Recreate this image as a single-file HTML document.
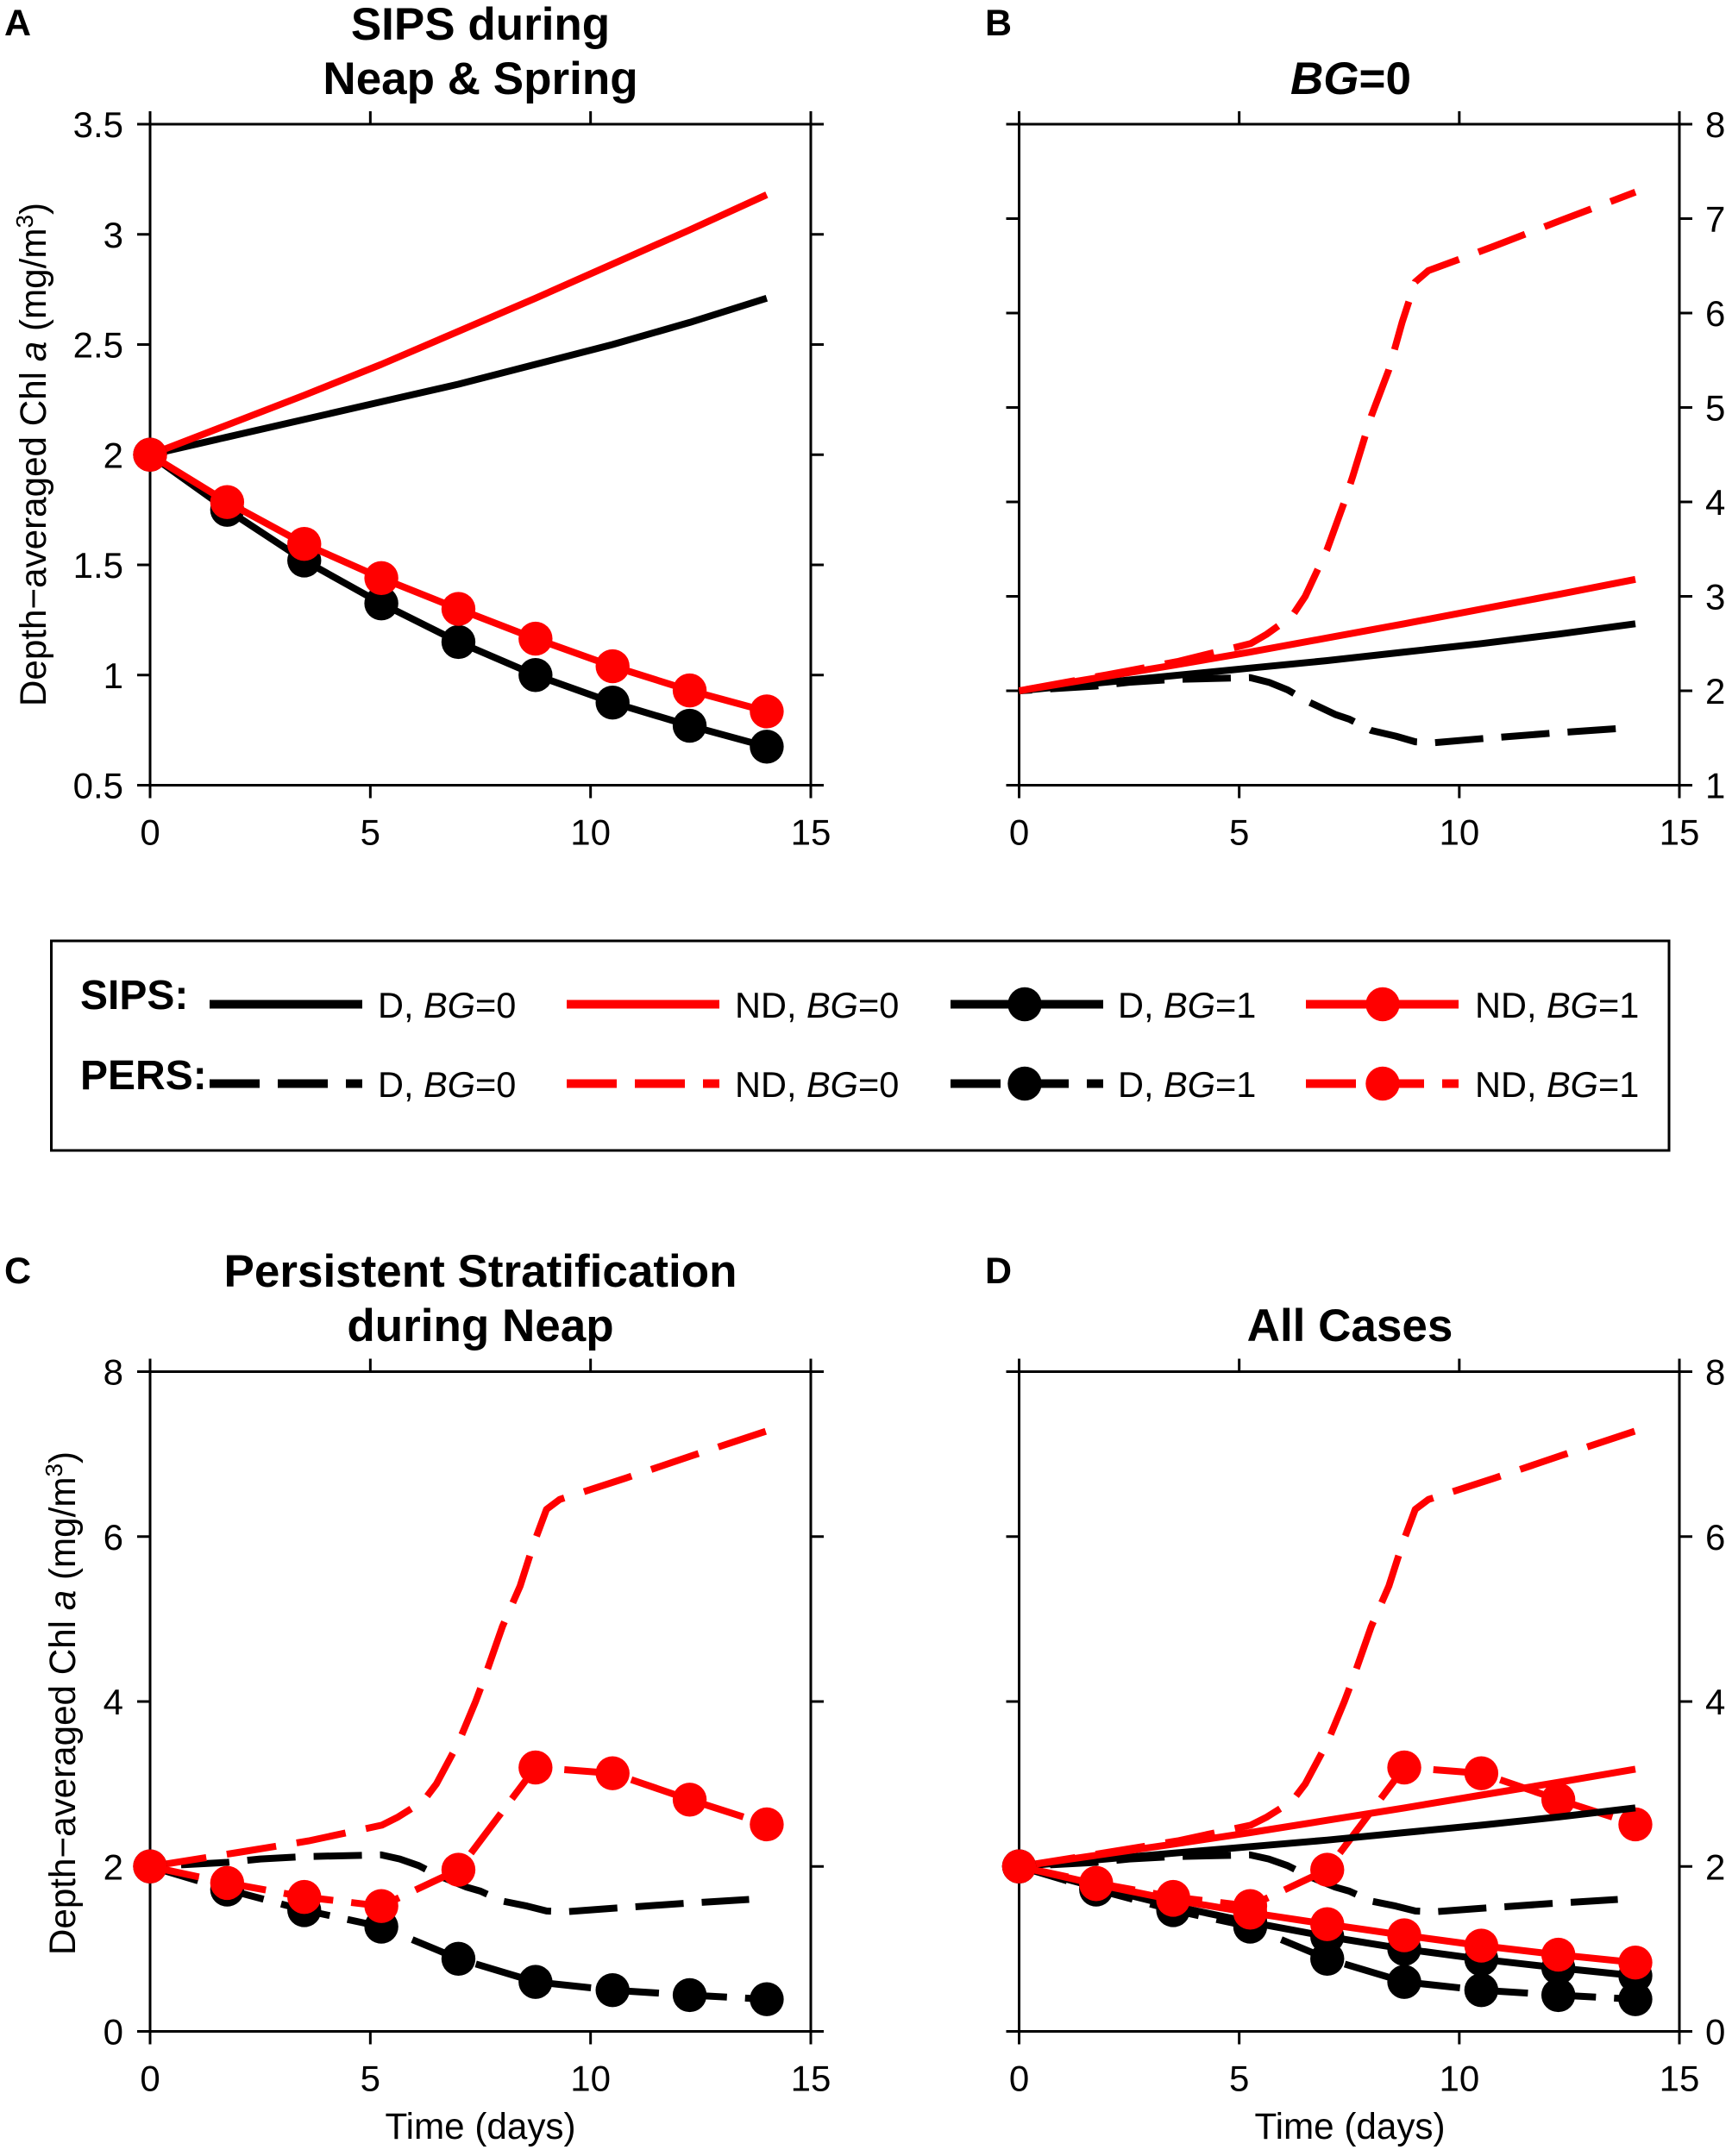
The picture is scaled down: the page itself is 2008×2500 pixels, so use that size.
<!DOCTYPE html>
<html lang="en">
<head>
<meta charset="utf-8">
<title>Depth-averaged Chl a under SIPS and persistent stratification</title>
<style>
html,body{margin:0;padding:0;background:#fff;width:2008px;height:2500px;overflow:hidden}
svg{display:block}
text{font-family:"Liberation Sans",sans-serif;fill:#000}
.tick{font-size:42px}
.title{font-size:53px;font-weight:bold;text-anchor:middle}
.letter{font-size:43px;font-weight:bold}
.axis-title{font-size:42.2px;text-anchor:middle}
.leg{font-size:41.5px}
.leg-h{font-size:48px;font-weight:bold}
</style>
</head>
<body>
<svg id="figure" xmlns="http://www.w3.org/2000/svg" width="2008" height="2500" viewBox="0 0 2008 2500">
  <rect x="0" y="0" width="2008" height="2500" fill="#fff"/>

  <text class="letter" x="5" y="41">A</text>
  <text class="title" x="557" y="46">SIPS during</text>
  <text class="title" x="557" y="109">Neap &amp; Spring</text>

  <text class="letter" x="1142" y="41">B</text>
  <text class="title" x="1566" y="109"><tspan font-style="italic">BG</tspan>=0</text>

  <text class="letter" x="5" y="1488">C</text>
  <text class="title" x="557" y="1492">Persistent Stratification</text>
  <text class="title" x="557" y="1555">during Neap</text>

  <text class="letter" x="1142" y="1488">D</text>
  <text class="title" x="1565" y="1555">All Cases</text>

  <text class="axis-title" transform="translate(53 527) rotate(-90)">Depth−averaged Chl <tspan font-style="italic">a</tspan> (mg/m<tspan font-size="28" dy="-15">3</tspan><tspan dy="15">)</tspan></text>
  <text class="axis-title" transform="translate(87 1975) rotate(-90)">Depth−averaged Chl <tspan font-style="italic">a</tspan> (mg/m<tspan font-size="28" dy="-15">3</tspan><tspan dy="15">)</tspan></text>
  <text class="axis-title" x="557" y="2480">Time (days)</text>
  <text class="axis-title" x="1565" y="2480">Time (days)</text>

  <g>
    <rect x="59.5" y="1091" width="1875.5" height="243" fill="none" stroke="#000" stroke-width="3"/>
    <text class="leg-h" x="93" y="1170">SIPS:</text>
    <text class="leg-h" x="93" y="1263">PERS:</text>

    <g>
      <line x1="243" y1="1164.5" x2="420" y2="1164.5" stroke="#000" stroke-width="10"/>
      <text class="leg" x="438" y="1180">D, <tspan font-style="italic">BG</tspan>=0</text>
    </g>
    <g>
      <line x1="657" y1="1164.5" x2="834" y2="1164.5" stroke="#f00" stroke-width="10"/>
      <text class="leg" x="852" y="1180">ND, <tspan font-style="italic">BG</tspan>=0</text>
    </g>
    <g>
      <line x1="1102" y1="1164.5" x2="1279" y2="1164.5" stroke="#000" stroke-width="10"/>
      <circle cx="1188" cy="1164.5" r="19.7" fill="#000"/>
      <text class="leg" x="1296" y="1180">D, <tspan font-style="italic">BG</tspan>=1</text>
    </g>
    <g>
      <line x1="1514" y1="1164.5" x2="1691" y2="1164.5" stroke="#f00" stroke-width="10"/>
      <circle cx="1603" cy="1164.5" r="19.7" fill="#f00"/>
      <text class="leg" x="1710" y="1180">ND, <tspan font-style="italic">BG</tspan>=1</text>
    </g>

    <g>
      <line x1="243" y1="1256.5" x2="420" y2="1256.5" stroke="#000" stroke-width="10" stroke-dasharray="58 21 58 21"/>
      <text class="leg" x="438" y="1272">D, <tspan font-style="italic">BG</tspan>=0</text>
    </g>
    <g>
      <line x1="657" y1="1256.5" x2="834" y2="1256.5" stroke="#f00" stroke-width="10" stroke-dasharray="58 21 58 21"/>
      <text class="leg" x="852" y="1272">ND, <tspan font-style="italic">BG</tspan>=0</text>
    </g>
    <g>
      <line x1="1102" y1="1256.5" x2="1279" y2="1256.5" stroke="#000" stroke-width="10" stroke-dasharray="58 21 58 21"/>
      <circle cx="1188" cy="1256.5" r="19.7" fill="#000"/>
      <text class="leg" x="1296" y="1272">D, <tspan font-style="italic">BG</tspan>=1</text>
    </g>
    <g>
      <line x1="1514" y1="1256.5" x2="1691" y2="1256.5" stroke="#f00" stroke-width="10" stroke-dasharray="58 21 58 21"/>
      <circle cx="1603" cy="1256.5" r="19.7" fill="#f00"/>
      <text class="leg" x="1710" y="1272">ND, <tspan font-style="italic">BG</tspan>=1</text>
    </g>
  </g>
</svg>

<script>
// ---- chart data ----
const xTickValues = [0, 5, 10, 15];
const yTicksA = [0.5, 1, 1.5, 2, 2.5, 3, 3.5];
const yTicksB = [1, 2, 3, 4, 5, 6, 7, 8];
const yTicksCD = [0, 2, 4, 6, 8];

const markerTimes = [0, 1.75, 3.5, 5.25, 7, 8.75, 10.5, 12.25, 14];

const sipsD0Values = [2, 2.08, 2.16, 2.24, 2.32, 2.41, 2.5, 2.6, 2.71];
const sipsND0Values = [2, 2.135, 2.27, 2.41, 2.56, 2.71, 2.865, 3.02, 3.18];
const sipsD1Values = [2, 1.75, 1.52, 1.325, 1.15, 1.0, 0.875, 0.77, 0.675];
const sipsND1Values = [2, 1.785, 1.595, 1.44, 1.3, 1.165, 1.04, 0.93, 0.835];

const persD1Values = [2, 1.72, 1.47, 1.27, 0.88, 0.6, 0.5, 0.44, 0.39];
const persND1Values = [2, 1.8, 1.63, 1.52, 1.96, 3.2, 3.13, 2.81, 2.51];

const persD0Times = [0, 1.75, 2.5, 3.5, 5.25, 5.67, 6.1, 6.54, 7.18, 7.5, 8, 8.56, 9, 9.43, 10.44, 12.07, 13.6];
const persD0Values = [2, 2.05, 2.09, 2.12, 2.14, 2.09, 2.01, 1.89, 1.75, 1.7, 1.58, 1.52, 1.46, 1.45, 1.49, 1.55, 1.6];

const persND0Times = [0, 2, 3.6, 5.26, 5.63, 6.2, 6.5, 7, 7.39, 7.58, 8, 8.4, 8.7, 9, 9.3, 10, 10.8, 12.3, 14];
const persND0Values = [2, 2.17, 2.31, 2.5, 2.6, 2.79, 3.0, 3.5, 4.0, 4.27, 4.91, 5.4, 5.9, 6.33, 6.45, 6.57, 6.71, 6.98, 7.28];

// ---- layout ----
const xMin = 0, xMax = 15;
const NS = 'http://www.w3.org/2000/svg';
const fig = document.getElementById('figure');

function make(tag, attrs, parent) {
  const el = document.createElementNS(NS, tag);
  for (const k in attrs) el.setAttribute(k, attrs[k]);
  parent.appendChild(el);
  return el;
}
function xAxis(p, t) { return p.left + (t - xMin) / (xMax - xMin) * (p.right - p.left); }
function yAxis(p, v) { return p.bottom - (v - p.yMin) / (p.yMax - p.yMin) * (p.bottom - p.top); }

function drawFrame(p, g) {
  const frame = make('rect', {x: p.left, y: p.top, width: p.right - p.left, height: p.bottom - p.top, fill: 'none', stroke: '#000', 'stroke-width': 3}, g);
  
  
  const tickLen = 15;
  xTickValues.forEach(function (t) {
    const x = xAxis(p, t);
    const tb = make('line', {x1: x, x2: x, y1: p.bottom, y2: p.bottom + tickLen, stroke: '#000', 'stroke-width': 3}, g);
    
    
    const tt = make('line', {x1: x, x2: x, y1: p.top, y2: p.top - tickLen, stroke: '#000', 'stroke-width': 3}, g);
    
    
    const lab = make('text', {x: x, y: p.bottom + 69, 'text-anchor': 'middle', 'class': 'tick'}, g);
    lab.textContent = String(t);
    
    
  });
  p.yTicks.forEach(function (v) {
    const y = yAxis(p, v);
    const tl = make('line', {x1: p.left, x2: p.left - tickLen, y1: y, y2: y, stroke: '#000', 'stroke-width': 3}, g);
    
    
    const tr = make('line', {x1: p.right, x2: p.right + tickLen, y1: y, y2: y, stroke: '#000', 'stroke-width': 3}, g);
    
    
    const onRight = p.labelSide === 'right';
    const lab = make('text', {x: onRight ? p.right + 30 : p.left - 31, y: y + 15, 'text-anchor': onRight ? 'start' : 'end', 'class': 'tick'}, g);
    lab.textContent = String(v);
    
    
  });
}

function drawLine(p, g, name, times, values, color, dash, offset, markers) {
  const pts = times.map(function (t, i) { return xAxis(p, t).toFixed(1) + ',' + yAxis(p, values[i]).toFixed(1); });
  const attrs = {points: pts.join(' '), fill: 'none', stroke: color, 'stroke-width': 8, 'stroke-linejoin': 'round', 'stroke-linecap': 'butt'};
  if (dash) {
    attrs['stroke-dasharray'] = dash;
    attrs['stroke-dashoffset'] = offset;
  }
  const line = make('polyline', attrs, g);
  
  
  if (markers) {
    times.forEach(function (t, i) {
      const c = make('circle', {cx: xAxis(p, t), cy: yAxis(p, values[i]), r: 19.7, fill: color}, g);
      
      
    });
  }
}

const drawers = {
  persD0: function (p, g) { drawLine(p, g, 'pers-d-bg0', persD0Times, persD0Values, '#000', '56 21', -36, false); },
  persND0: function (p, g) { drawLine(p, g, 'pers-nd-bg0', persND0Times, persND0Values, '#f00', '58 24', -8, false); },
  persD1: function (p, g) { drawLine(p, g, 'pers-d-bg1', markerTimes, persD1Values, '#000', '58 21', 0, true); },
  persND1: function (p, g) { drawLine(p, g, 'pers-nd-bg1', markerTimes, persND1Values, '#f00', '58 21', 0, true); },
  sipsD0: function (p, g) { drawLine(p, g, 'sips-d-bg0', markerTimes, sipsD0Values, '#000', null, 0, false); },
  sipsND0: function (p, g) { drawLine(p, g, 'sips-nd-bg0', markerTimes, sipsND0Values, '#f00', null, 0, false); },
  sipsD1: function (p, g) { drawLine(p, g, 'sips-d-bg1', markerTimes, sipsD1Values, '#000', null, 0, true); },
  sipsND1: function (p, g) { drawLine(p, g, 'sips-nd-bg1', markerTimes, sipsND1Values, '#f00', null, 0, true); }
};

const panels = [
  {id: 'panel-a', left: 174, right: 940, top: 144, bottom: 910.5, yMin: 0.5, yMax: 3.5, yTicks: yTicksA, labelSide: 'left',
   series: ['sipsD0', 'sipsND0', 'sipsD1', 'sipsND1']},
  {id: 'panel-b', left: 1181.5, right: 1947, top: 144, bottom: 910.5, yMin: 1, yMax: 8, yTicks: yTicksB, labelSide: 'right',
   series: ['persD0', 'persND0', 'sipsD0', 'sipsND0']},
  {id: 'panel-c', left: 174, right: 940, top: 1590.5, bottom: 2355.5, yMin: 0, yMax: 8, yTicks: yTicksCD, labelSide: 'left',
   series: ['persD0', 'persND0', 'persD1', 'persND1']},
  {id: 'panel-d', left: 1181.5, right: 1947, top: 1590.5, bottom: 2355.5, yMin: 0, yMax: 8, yTicks: yTicksCD, labelSide: 'right',
   series: ['persD0', 'persND0', 'persD1', 'persND1', 'sipsD0', 'sipsND0', 'sipsD1', 'sipsND1']}
];

panels.forEach(function (p) {
  const g = make('g', {}, fig);
  
  
  drawFrame(p, g);
  p.series.forEach(function (key) { drawers[key](p, g); });
});
</script>
</body>
</html>
